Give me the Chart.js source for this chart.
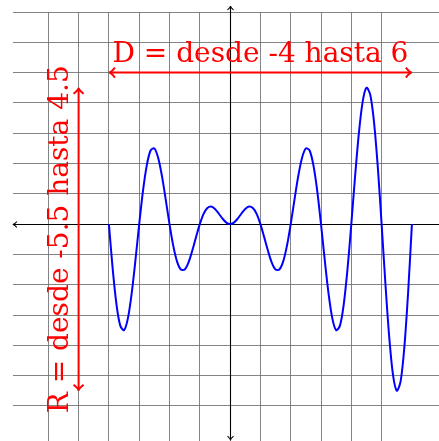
<!DOCTYPE html>
<html>
<head>
<meta charset="utf-8">
<script src="https://cdn.jsdelivr.net/npm/chart.js@4.4.0/dist/chart.umd.min.js"></script>
<style>
  html, body { margin: 0; padding: 0; background: #ffffff; }
  #wrap { width: 439px; height: 441px; }
</style>
</head>
<body>
<div id="wrap"><canvas id="plot" width="439" height="441"></canvas></div>
<script>
// Sampled points of the oscillating curve (step 0.125)
const xValues = [
  -4, -3.875, -3.75, -3.625, -3.5, -3.375, -3.25, -3.125,
  -3, -2.875, -2.75, -2.625, -2.5, -2.375, -2.25, -2.125,
  -2, -1.875, -1.75, -1.625, -1.5, -1.375, -1.25, -1.125,
  -1, -0.875, -0.75, -0.625, -0.5, -0.375, -0.25, -0.125,
  0, 0.125, 0.25, 0.375, 0.5, 0.625, 0.75, 0.875,
  1, 1.125, 1.25, 1.375, 1.5, 1.625, 1.75, 1.875,
  2, 2.125, 2.25, 2.375, 2.5, 2.625, 2.75, 2.875,
  3, 3.125, 3.25, 3.375, 3.5, 3.625, 3.75, 3.875,
  4, 4.125, 4.25, 4.375, 4.5, 4.625, 4.75, 4.875,
  5, 5.125, 5.25, 5.375, 5.5, 5.625, 5.75, 5.875, 6
];
const yValues = [
  0, -1.48, -2.65, -3.35, -3.5, -3.12, -2.3, -1.2,
  0, 1.1, 1.94, 2.43, 2.5, 2.19, 1.59, 0.81,
  0, -0.72, -1.24, -1.5, -1.5, -1.27, -0.88, -0.43,
  0, 0.34, 0.53, 0.58, 0.5, 0.35, 0.18, 0.05,
  0, 0.05, 0.18, 0.35, 0.5, 0.58, 0.53, 0.34,
  0, -0.43, -0.88, -1.27, -1.5, -1.5, -1.24, -0.72,
  0, 0.81, 1.59, 2.19, 2.5, 2.43, 1.94, 1.1,
  0, -1.2, -2.3, -3.12, -3.5, -3.35, -2.65, -1.48,
  0, 1.58, 3.0, 4.04, 4.5, 4.27, 3.36, 1.87,
  0, -1.96, -3.71, -4.97, -5.5, -5.2, -4.07, -2.25, 0
];

// Domain and range markers
const domainExtent = [-4, 6];
const rangeExtent = [-5.5, 4.5];
const domainLabel = 'D = desde -4 hasta 6';
const rangeLabel = 'R = desde -5.5 hasta 4.5';

// Visible window of the coordinate plane
const xWindow = [-7.165, 6.894];
const yWindow = [-7.158, 7.0];
// Axis line extents (arrow tips)
const xAxisExtent = [-7.17, 7.3];
const yAxisExtent = [-7.13, 7.2];

const points = xValues.map((x, i) => ({ x: x, y: yValues[i] }));

function head(ctx, tx, ty, dx, dy, len, half) {
  const px = -dy, py = dx;
  ctx.beginPath();
  ctx.moveTo(tx - dx * len + px * half, ty - dy * len + py * half);
  ctx.quadraticCurveTo(tx - dx * len * 0.35, ty - dy * len * 0.35, tx, ty);
  ctx.quadraticCurveTo(tx - dx * len * 0.35, ty - dy * len * 0.35, tx - dx * len - px * half, ty - dy * len - py * half);
  ctx.stroke();
}

const axesPlugin = {
  id: 'axesPlugin',
  beforeDatasetsDraw(chart) {
    const ctx = chart.ctx, xs = chart.scales.x, ys = chart.scales.y;
    const x0 = Math.round(xs.getPixelForValue(0)) + 0.5, y0 = Math.round(ys.getPixelForValue(0)) + 0.5;
    const xl = xs.getPixelForValue(xAxisExtent[0]), xr = xs.getPixelForValue(xAxisExtent[1]);
    const yt = ys.getPixelForValue(yAxisExtent[1]), yb = ys.getPixelForValue(yAxisExtent[0]);
    ctx.save();
    ctx.strokeStyle = '#000000';
    ctx.lineWidth = 1.1;
    ctx.beginPath();
    ctx.moveTo(xl, y0); ctx.lineTo(xr, y0);
    ctx.moveTo(x0, yt); ctx.lineTo(x0, yb);
    ctx.stroke();
    head(ctx, xl, y0, -1, 0, 4, 3);
    head(ctx, xr, y0, 1, 0, 4, 3);
    head(ctx, x0, yt, 0, -1, 4, 3);
    head(ctx, x0, yb, 0, 1, 4, 3);
    ctx.restore();
  },
  afterDatasetsDraw(chart) {
    const ctx = chart.ctx, xs = chart.scales.x, ys = chart.scales.y;
    ctx.save();
    ctx.strokeStyle = '#ff0000';
    ctx.fillStyle = '#ff0000';
    ctx.lineWidth = 2;

    // domain arrow along y = 5
    const hy = ys.getPixelForValue(5);
    const hx1 = xs.getPixelForValue(domainExtent[0]), hx2 = xs.getPixelForValue(domainExtent[1]);
    ctx.beginPath(); ctx.moveTo(hx1 + 1, hy); ctx.lineTo(hx2 - 1, hy); ctx.stroke();
    head(ctx, hx1, hy, -1, 0, 6, 5);
    head(ctx, hx2, hy, 1, 0, 6, 5);

    // range arrow along x = -5
    const vx = xs.getPixelForValue(-5);
    const vy1 = ys.getPixelForValue(rangeExtent[1]), vy2 = ys.getPixelForValue(rangeExtent[0]);
    ctx.beginPath(); ctx.moveTo(vx, vy1 + 1); ctx.lineTo(vx, vy2 - 1); ctx.stroke();
    head(ctx, vx, vy1, 0, -1, 6, 5);
    head(ctx, vx, vy2, 0, 1, 6, 5);

    ctx.font = '28px "DejaVu Serif"';
    ctx.textAlign = 'center';
    ctx.textBaseline = 'alphabetic';
    const midX = xs.getPixelForValue((domainExtent[0] + domainExtent[1]) / 2);
    ctx.fillText(domainLabel, midX, hy - 10.5);

    const midY = ys.getPixelForValue((rangeExtent[0] + rangeExtent[1]) / 2);
    ctx.translate(vx - 10.5, midY);
    ctx.rotate(-Math.PI / 2);
    ctx.fillText(rangeLabel, 0, 0);
    ctx.restore();
  }
};

const gridColor = (c) => Number.isInteger(c.tick.value) ? 'rgba(110,110,110,0.85)' : 'rgba(0,0,0,0)';

new Chart(document.getElementById('plot'), {
  type: 'line',
  data: {
    datasets: [{
      data: points,
      borderColor: '#0000ff',
      borderWidth: 2,
      pointRadius: 0,
      fill: false,
      tension: 0.3
    }]
  },
  options: {
    responsive: false,
    devicePixelRatio: 1,
    animation: false,
    events: [],
    layout: { padding: { left: 13, top: 12, right: 0, bottom: 0 } },
    plugins: { legend: { display: false }, tooltip: { enabled: false }, title: { display: false } },
    scales: {
      x: {
        type: 'linear',
        min: xWindow[0], max: xWindow[1],
        ticks: { display: false, stepSize: 1 },
        grid: { color: gridColor, lineWidth: 1, drawTicks: false },
        border: { display: false }
      },
      y: {
        type: 'linear',
        min: yWindow[0], max: yWindow[1],
        ticks: { display: false, stepSize: 1 },
        grid: { color: gridColor, lineWidth: 1, drawTicks: false },
        border: { display: false }
      }
    }
  },
  plugins: [axesPlugin]
});
</script>
</body>
</html>
